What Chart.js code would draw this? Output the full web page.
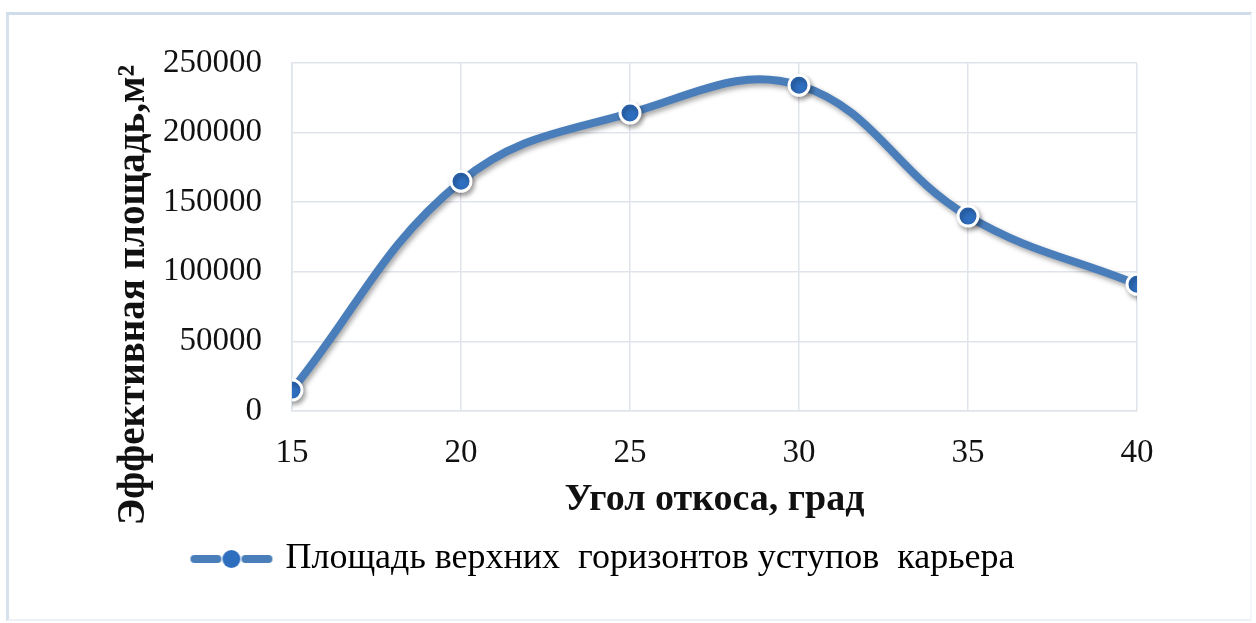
<!DOCTYPE html>
<html>
<head>
<meta charset="utf-8">
<script src="https://cdn.jsdelivr.net/npm/chart.js@4/dist/chart.umd.min.js"></script>
<style>
  html, body { margin: 0; padding: 0; background: #fff; }
  #wrap { position: relative; width: 1256px; height: 623px; }
  #frame {
    position: absolute; left: 6px; top: 12px; right: 4px; bottom: 2px;
    border-top: 3px solid #cfdcea; border-left: 3px solid #d5e1ed;
    border-right: 2px solid #f3f6fa; border-bottom: 2px solid #eef2f7;
  }
  #myChart { position: absolute; left: 0; top: 0; }
</style>
</head>
<body>
<div id="wrap">
  <div id="frame"></div>
  <canvas id="myChart" width="1256" height="623"></canvas>
</div>
<script>
// slope angle, degrees
var angles = [15, 20, 25, 30, 35, 40];
// effective area of upper benches, m2
var areas = [15000, 165000, 214000, 234000, 140000, 91000];
var xTicks = [15, 20, 25, 30, 35, 40];
var yTicks = [0, 50000, 100000, 150000, 200000, 250000];

var seriesLabel = 'Площадь верхних  горизонтов уступов  карьера';
var xTitle = 'Угол откоса, град';
var yTitle = 'Эффективная площадь,м²';
var lineColor = '#4a7ebb';
var dotColor = '#2e6ebf';
var gridColor = '#dfe4ea';
var serif = '"Liberation Serif", "Times New Roman", serif';

// legend symbol: dash, dot, dash
var legendIcon = document.createElement('canvas');
legendIcon.width = 84;
legendIcon.height = 24;
(function () {
    var c = legendIcon.getContext('2d');
    c.strokeStyle = lineColor;
    c.lineWidth = 8;
    c.lineCap = 'round';
    c.beginPath(); c.moveTo(5, 12); c.lineTo(28, 12); c.stroke();
    c.beginPath(); c.moveTo(56, 12); c.lineTo(79, 12); c.stroke();
    c.fillStyle = dotColor;
    c.beginPath(); c.arc(42, 12, 9, 0, Math.PI * 2); c.fill();
})();

// soft drop shadow under the line and markers
var shadowPlugin = {
    id: 'lineShadow',
    beforeDatasetsDraw: function (chart) {
        var c = chart.ctx;
        c.save();
        c.shadowColor = 'rgba(0,0,0,0.35)';
        c.shadowBlur = 5;
        c.shadowOffsetX = 2;
        c.shadowOffsetY = 3;
    },
    afterDatasetsDraw: function (chart) {
        chart.ctx.restore();
    }
};

// vertical axis title, centred lower than the plot area
var yTitlePlugin = {
    id: 'yTitle',
    afterDraw: function (chart) {
        var c = chart.ctx;
        c.save();
        c.translate(134, 295);
        c.rotate(-Math.PI / 2);
        c.font = 'bold 39px ' + serif;
        c.fillStyle = '#111';
        c.textAlign = 'center';
        c.textBaseline = 'middle';
        c.fillText(yTitle, 0, 0);
        c.restore();
    }
};

var ctx = document.getElementById('myChart');
var myChart = new Chart(ctx, {
    type: 'line',
    data: {
        datasets: [{
            label: seriesLabel,
            data: angles.map(function (a, i) { return {x: a, y: areas[i]}; }),
            borderColor: lineColor,
            borderWidth: 8,
            tension: 0.4,
            pointRadius: 10,
            pointBorderWidth: 3,
            pointBackgroundColor: dotColor,
            pointBorderColor: '#ffffff',
            pointStyle: 'circle',
            fill: false
        }]
    },
    options: {
        responsive: false,
        animation: false,
        layout: {
            padding: {left: 73, right: 119, top: 63, bottom: 36}
        },
        plugins: {
            legend: {
                position: 'bottom',
                labels: {
                    usePointStyle: true,
                    pointStyleWidth: 72,
                    color: '#111',
                    font: {family: serif, size: 36},
                    generateLabels: function (chart) {
                        return [{
                            text: seriesLabel,
                            pointStyle: legendIcon,
                            fillStyle: dotColor,
                            strokeStyle: lineColor,
                            lineWidth: 0,
                            datasetIndex: 0
                        }];
                    }
                }
            },
            tooltip: {enabled: false}
        },
        scales: {
            x: {
                type: 'linear',
                min: 15,
                max: 40,
                afterBuildTicks: function (scale) {
                    scale.ticks = xTicks.map(function (v) { return {value: v}; });
                },
                afterFit: function (scale) { scale.height = 120; },
                grid: {color: gridColor, lineWidth: 1.5, drawTicks: false},
                border: {color: gridColor, width: 1.5},
                ticks: {
                    color: '#111',
                    padding: 23,
                    font: {family: serif, size: 33}
                },
                title: {
                    display: true,
                    text: xTitle,
                    color: '#111',
                    padding: {top: 0, bottom: 8},
                    font: {family: serif, size: 38, weight: 'bold'}
                }
            },
            y: {
                min: 0,
                max: 250000,
                afterBuildTicks: function (scale) {
                    scale.ticks = yTicks.map(function (v) { return {value: v}; });
                },
                afterFit: function (scale) { scale.width = 292 - 73; },
                grid: {color: gridColor, lineWidth: 1.5, drawTicks: false},
                border: {color: gridColor, width: 1.5},
                ticks: {
                    color: '#111',
                    padding: 30,
                    font: {family: serif, size: 33},
                    callback: function (v) { return String(v); }
                }
            }
        }
    },
    plugins: [shadowPlugin, yTitlePlugin]
});
</script>
</body>
</html>
